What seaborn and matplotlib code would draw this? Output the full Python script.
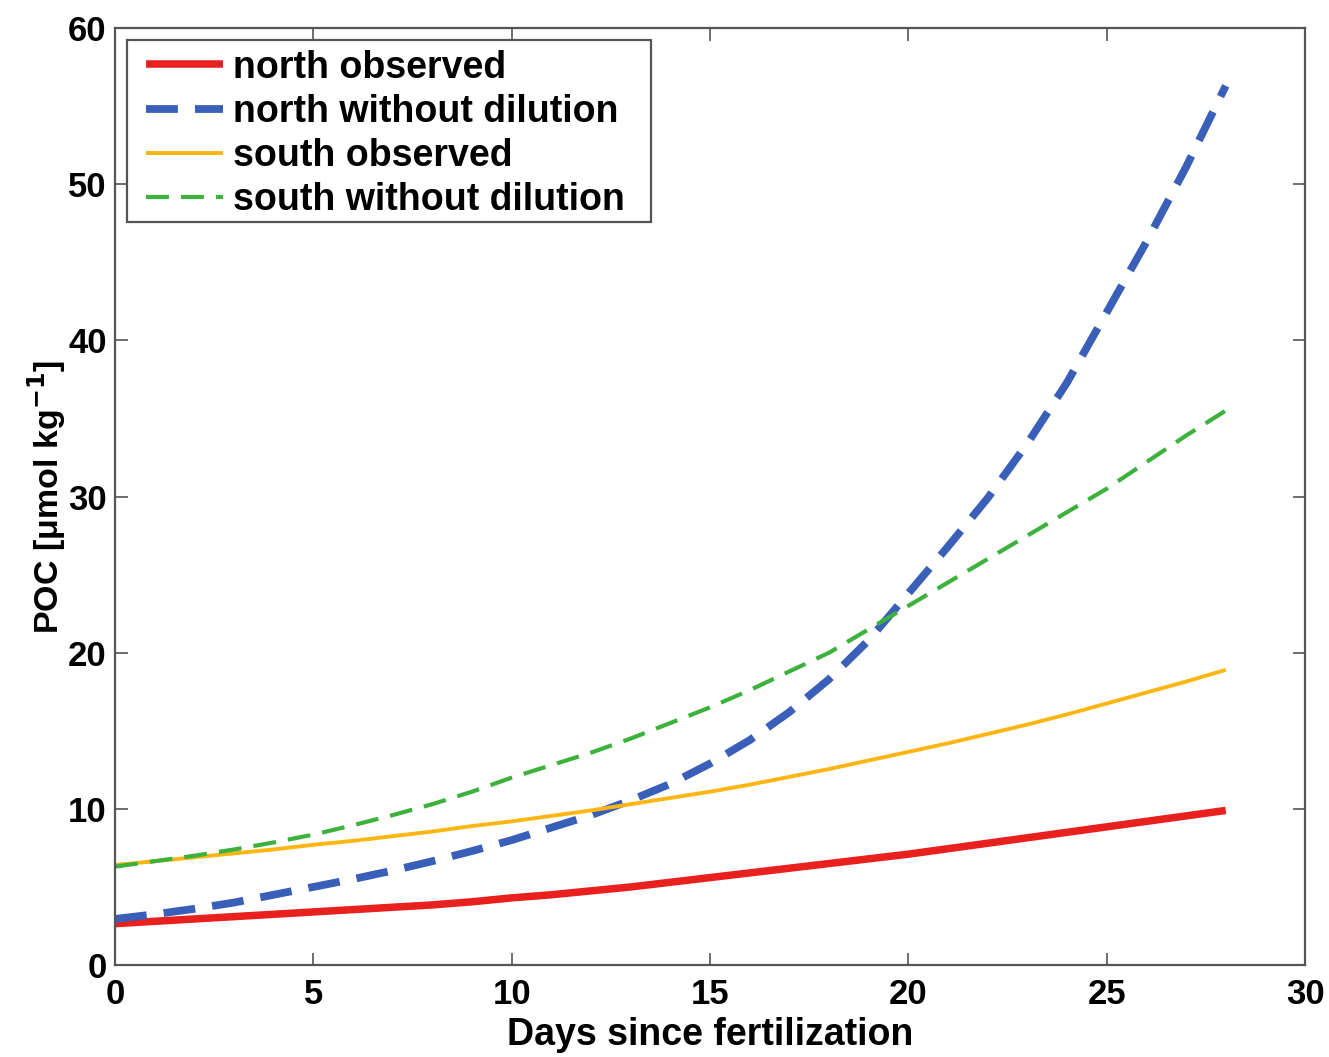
import pandas as pd
import matplotlib
matplotlib.use("Agg")
import matplotlib.pyplot as plt
import matplotlib.patches as mpatches
import seaborn as sns

# ── Data (one value per day) ─────────────────────────────────────────────────
days = list(range(0, 29))

north_observed = [2.65, 2.8, 2.95, 3.1, 3.25, 3.4, 3.55, 3.7, 3.85, 4.05,
                  4.3, 4.5, 4.75, 5.0, 5.3, 5.6, 5.9, 6.2, 6.5, 6.8,
                  7.1, 7.45, 7.8, 8.15, 8.5, 8.85, 9.2, 9.55, 9.9]
north_no_dilution = [2.95, 3.25, 3.6, 4.0, 4.5, 5.0, 5.5, 6.05, 6.65, 7.3,
                     8.0, 8.8, 9.6, 10.55, 11.6, 12.9, 14.4, 16.2, 18.3, 20.8,
                     23.8, 26.8, 29.9, 33.4, 37.3, 41.8, 46.3, 51.1, 56.3]
south_observed = [6.4, 6.65, 6.9, 7.15, 7.4, 7.7, 7.95, 8.25, 8.55, 8.9,
                  9.2, 9.55, 9.9, 10.3, 10.7, 11.1, 11.55, 12.05, 12.55, 13.1,
                  13.65, 14.2, 14.8, 15.4, 16.05, 16.75, 17.45, 18.15, 18.9]
south_no_dilution = [6.3, 6.65, 7.0, 7.4, 7.85, 8.35, 8.95, 9.6, 10.3, 11.1,
                     12.0, 12.8, 13.6, 14.5, 15.5, 16.5, 17.6, 18.8, 20.0, 21.5,
                     23.0, 24.5, 26.0, 27.5, 29.0, 30.5, 32.2, 33.9, 35.5]

labels = ["north observed", "north without dilution",
          "south observed", "south without dilution"]

x_ticks = [0, 5, 10, 15, 20, 25, 30]
y_ticks = [0, 10, 20, 30, 40, 50, 60]

# ── Style ─────────────────────────────────────────────────────────────────────
sns.set_style("ticks")
plt.rcParams["font.family"] = ["Liberation Sans", "DejaVu Sans"]
plt.rcParams["font.weight"] = "bold"
plt.rcParams["axes.labelweight"] = "bold"
plt.rcParams["mathtext.default"] = "bf"
plt.rcParams["text.color"] = "black"
plt.rcParams["axes.labelcolor"] = "black"
plt.rcParams["xtick.color"] = "black"
plt.rcParams["ytick.color"] = "black"

df = pd.DataFrame({
    "day": days,
    labels[0]: north_observed,
    labels[1]: north_no_dilution,
    labels[2]: south_observed,
    labels[3]: south_no_dilution,
})

fig = plt.figure(figsize=(13.29, 10.57), dpi=100)
ax = fig.add_axes([0.0865, 0.087, 0.8955, 0.8865])

sns.lineplot(data=df, x="day", y=labels[0], ax=ax, color="#e8201e",
             linewidth=5.4, legend=False, solid_capstyle="butt")
sns.lineplot(data=df, x="day", y=labels[1], ax=ax, color="#3a5fb8",
             linewidth=5.6, legend=False)
sns.lineplot(data=df, x="day", y=labels[2], ax=ax, color="#fbb614",
             linewidth=2.8, legend=False, solid_capstyle="butt")
sns.lineplot(data=df, x="day", y=labels[3], ax=ax, color="#3cb13c",
             linewidth=3.0, legend=False)

ax.lines[1].set_dashes([4.1, 2.2])
ax.lines[3].set_dashes([5.5, 2.9])

ax.set_xlim(0, 30)
ax.set_ylim(0, 60)
ax.set_xticks(x_ticks)
ax.set_yticks(y_ticks)
ax.tick_params(direction="in", length=9, width=1.2, colors="black",
               labelsize=25, pad=6, top=True, right=True)
ax.tick_params(axis="x", pad=9)
ax.tick_params(color="#555555")
for s in ax.spines.values():
    s.set_color("#555555")
    s.set_linewidth(1.6)

ax.set_xlabel("Days since fertilization", fontsize=27, fontweight="bold", labelpad=5)
ax.set_ylabel(r"POC [μmol kg$^{\mathbf{-1}}$]", fontsize=24.5, fontweight="bold", labelpad=0)

# legend box drawn separately so the padding can match (wider at the sides)
box = mpatches.Rectangle((0.0101, 0.7930), 0.4403, 0.1942, transform=ax.transAxes,
                         facecolor="white", edgecolor="#555555", linewidth=1.6,
                         zorder=4)
ax.add_patch(box)
leg = ax.legend(handles=ax.lines[:4], labels=labels, loc="upper left",
                bbox_to_anchor=(0.026, 0.977), fontsize=27, frameon=False,
                borderaxespad=0, borderpad=0, handlelength=2.05,
                handletextpad=0.27, labelspacing=0.22)
leg.set_zorder(5)

fig.savefig("out.png", dpi=100)
